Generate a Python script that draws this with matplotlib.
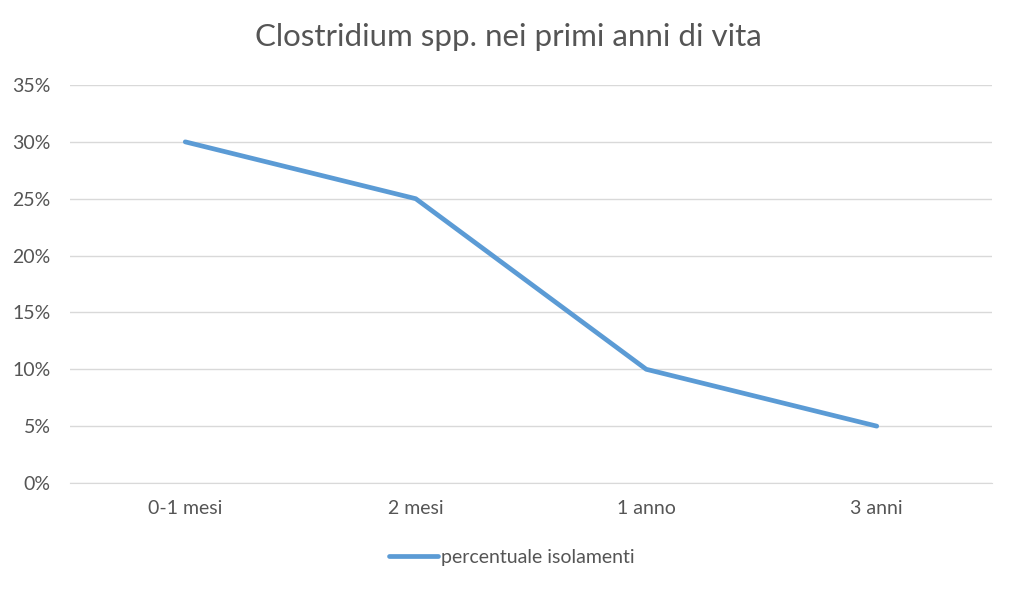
import matplotlib
matplotlib.use("Agg")
import matplotlib.pyplot as plt
from matplotlib.ticker import PercentFormatter, MultipleLocator

categories = ["0-1 mesi", "2 mesi", "1 anno", "3 anni"]
values = [0.30, 0.25, 0.10, 0.05]
series_name = "percentuale isolamenti"
title = "Clostridium spp. nei primi anni di vita"

plt.rcParams['font.family'] = ['Lato', 'DejaVu Sans']
text_color = "#555555"
line_color = "#5B9BD5"

fig = plt.figure(figsize=(10.16, 5.91), dpi=100)
ax = fig.add_axes([70/1016, 1-483/591, 922/1016, (483-85)/591])

x = list(range(len(categories)))
ax.plot(x, values, color=line_color, linewidth=3.4, solid_capstyle='round',
        solid_joinstyle='round', label=series_name)

ax.set_xlim(-0.5, len(categories) - 0.5)
ax.set_ylim(0, 0.35)
ax.yaxis.set_major_locator(MultipleLocator(0.05))
ax.yaxis.set_major_formatter(PercentFormatter(1.0, decimals=0))
ax.set_xticks(x)
ax.set_xticklabels(categories)
ax.grid(axis='y', color="#D9D9D9", linewidth=1.0)
ax.set_axisbelow(True)
for s in ['top', 'right', 'left']:
    ax.spines[s].set_visible(False)
ax.spines['bottom'].set_color("#D9D9D9")
ax.tick_params(axis='both', length=0, labelsize=14, colors=text_color)
ax.tick_params(axis='x', pad=12)
ax.tick_params(axis='y', pad=14)

fig.text(0.5, 1-37/591, title, ha='center', va='center', fontsize=22.5, color=text_color)

leg = fig.legend(loc='center', bbox_to_anchor=(512/1016, 1-557/591), frameon=False,
                 fontsize=14, handlelength=2.5, handletextpad=0.2)
for t in leg.get_texts():
    t.set_color(text_color)

fig.savefig("out.png", dpi=100)
